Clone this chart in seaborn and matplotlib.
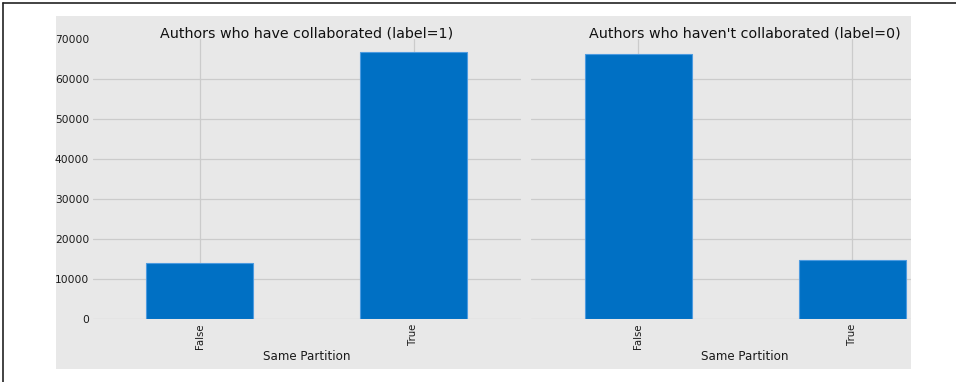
import matplotlib
matplotlib.use("Agg")
import matplotlib.pyplot as plt
from matplotlib.patches import Rectangle
from matplotlib.lines import Line2D
import seaborn as sns
import pandas as pd

categories = ["False", "True"]
collab_counts = [14000, 66900]
noncollab_counts = [66250, 14750]
titles = ["Authors who have collaborated (label=1)", "Authors who haven't collaborated (label=0)"]
y_ticks = [0, 10000, 20000, 30000, 40000, 50000, 60000, 70000]
x_label = "Same Partition"

sns.set_theme(style="whitegrid")
plt.rcParams['font.family'] = ['DejaVu Sans']

W, H = 956, 382
BG = "#e8e8e8"
GRID = "#cbcbcb"
BAR = "#0070c4"
EDGE = "#4d9be0"
TXT = "#1a1a1a"

fig = plt.figure(figsize=(W / 100, H / 100), dpi=100)
fig.patch.set_facecolor("white")
fig.patches.append(Rectangle((56 / W, 1 - 369 / H), (911 - 56) / W, (369 - 16) / H,
                             transform=fig.transFigure, facecolor=BG, edgecolor="none", zorder=-10))
fig.lines.append(Line2D([3 / W, 1], [1 - 2.5 / H, 1 - 2.5 / H], transform=fig.transFigure,
                        color="#222222", linewidth=1.2))
fig.lines.append(Line2D([3 / W, 3 / W], [0, 1 - 2.5 / H], transform=fig.transFigure,
                        color="#222222", linewidth=1.2))

top_px, bot_px = 39.3, 319.3
ax_b = 1 - bot_px / H
ax_h = (bot_px - top_px) / H
ax1 = fig.add_axes([92.5 / W, ax_b, 428 / W, ax_h])
ax2 = fig.add_axes([531 / W, ax_b, 380 / W, ax_h])

for ax, vals, title in [(ax1, collab_counts, titles[0]), (ax2, noncollab_counts, titles[1])]:
    df = pd.DataFrame({"cat": categories, "count": vals})
    sns.barplot(data=df, x="cat", y="count", ax=ax, color=BAR, saturation=1, width=0.5,
                edgecolor=EDGE, linewidth=0.8, zorder=3)
    ax.set_facecolor(BG)
    for s in ax.spines.values():
        s.set_visible(False)
    ax.set_ylim(0, 70000)
    ax.set_yticks(y_ticks)
    ax.grid(True, color=GRID, linewidth=0.9, zorder=0)
    ax.set_axisbelow(True)
    ax.tick_params(axis="both", length=0, colors=TXT)
    ax.tick_params(axis="y", pad=2.5, labelsize=7.7)
    ax.tick_params(axis="x", pad=3, labelrotation=90, labelsize=7.3)
    ax.set_xlabel(x_label, fontsize=8.6, color=TXT, labelpad=1)
    ax.set_ylabel("")

ax1.set_xlim(-0.5, 1.5)
ax2.set_xlim(-0.5, -0.5 + 380 / 214)
ax1.set_title(titles[0], fontsize=10.25, color="#111111", pad=1)
ax2.set_title(titles[1], fontsize=10.25, color="#111111", pad=1, x=(745 - 531) / 380)
ax2.set_yticklabels([])
ax2.xaxis.label.set_x((745 - 531) / 380)
for ax in (ax1, ax2):
    ax.yaxis.get_major_ticks()[-1].gridline.set_visible(False)

fig.savefig("out.png", dpi=100)
